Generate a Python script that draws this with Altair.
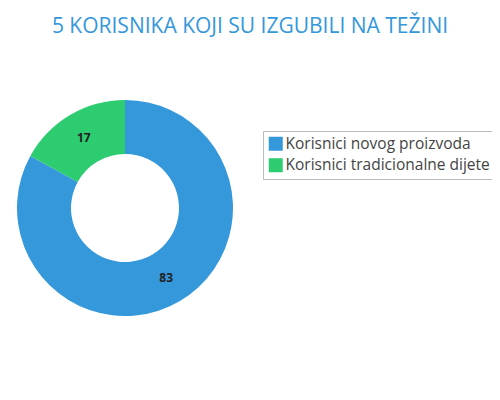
import altair as alt
import pandas as pd

categories = ["Korisnici novog proizvoda", "Korisnici tradicionalne dijete"]
values = [83, 17]
colors = ["#3498db", "#2ecc71"]
title_text = "5 KORISNIKA KOJI SU IZGUBILI NA TEŽINI"

df = pd.DataFrame({"category": categories, "value": values, "idx": list(range(len(categories)))})

CX, CY = 117, 200

base = alt.Chart(df).encode(
    theta=alt.Theta("value:Q", stack=True),
    order=alt.Order("idx:Q"),
)

arcs = base.mark_arc(outerRadius=108, innerRadius=54).encode(
    x=alt.value(CX),
    y=alt.value(CY),
    color=alt.Color(
        "category:N",
        scale=alt.Scale(domain=categories, range=colors),
        sort=categories,
        legend=alt.Legend(
            title=None,
            orient="none",
            legendX=255,
            legendY=123,
            symbolType="square",
            symbolSize=196,
            symbolStrokeWidth=0,
            labelFont="Open Sans",
            labelFontSize=15.5,
            labelColor="#444444",
            labelOffset=2,
            strokeColor="#bbbbbb",
            padding=5,
            rowPadding=4.5,
            labelLimit=400,
        ),
    ),
)

labels = base.mark_text(radius=81, font="Open Sans", fontSize=12, fontWeight="bold", color="#222222").encode(
    x=alt.value(CX),
    y=alt.value(CY),
    text=alt.Text("value:Q"),
)

title = alt.Chart(pd.DataFrame({"t": [title_text]})).mark_text(
    font="Open Sans", fontSize=21, color="#3498db", align="center", baseline="alphabetic"
).encode(x=alt.value(242), y=alt.value(25), text="t:N")

chart = alt.layer(arcs, labels, title).properties(
    width=484, height=384,
    autosize=alt.AutoSizeParams(type="none"),
    padding=0,
).configure_view(stroke=None)

chart.save("out.html", embed_options={"renderer": "svg", "actions": False})
